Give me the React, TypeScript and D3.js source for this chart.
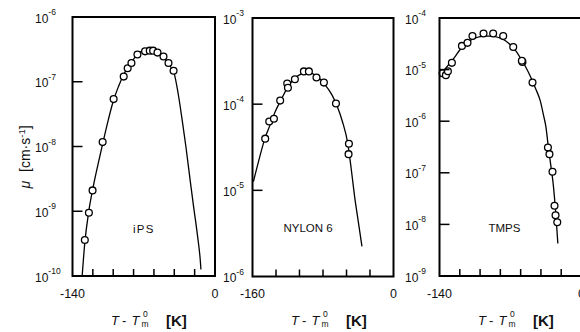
import React from 'react';
import * as d3 from 'd3';

// ---------- data (T - Tm0 in K, growth rate mu in cm/s) ----------
const ipsPointT = [-127.9, -123.9, -120.3, -110.4, -99.6, -89.7, -85.8, -82.1, -76.2, -68.7, -64.1, -60.8, -56.5, -50.6, -45.7, -40.7];
const ipsPointMu = [3.6e-10, 9.5e-10, 2.1e-9, 1.17e-8, 5.4e-8, 1.2e-7, 1.62e-7, 1.95e-7, 2.63e-7, 2.95e-7, 3.02e-7, 3.02e-7, 2.82e-7, 2.45e-7, 1.95e-7, 1.48e-7];
const ipsCurveT = [-130.5, -128, -124, -120, -115, -110, -105, -100, -95, -90, -85, -80, -75, -70, -65, -60, -55, -50, -45, -40, -36, -32, -28.6, -24.4, -21, -17.1, -14.5, -13.8];
const ipsCurveMu = [1.0e-10, 3.16e-10, 1.0e-9, 2.24e-9, 5.25e-9, 1.17e-8, 2.51e-8, 5.0e-8, 8.3e-8, 1.26e-7, 1.74e-7, 2.24e-7, 2.75e-7, 3.09e-7, 3.24e-7, 3.16e-7, 2.82e-7, 2.34e-7, 1.82e-7, 1.32e-7, 6.3e-8, 2.4e-8, 1.0e-8, 3.0e-9, 1.17e-9, 4.1e-10, 1.78e-10, 1.26e-10];

const nylonPointT = [-145.6, -141, -135.7, -128.6, -120.6, -119.8, -111.9, -101.7, -96, -87.4, -79, -65.3, -50.6, -51];
const nylonPointMu = [3.98e-5, 6.3e-5, 6.76e-5, 1.1e-4, 1.74e-4, 1.55e-4, 1.95e-4, 2.4e-4, 2.4e-4, 2.04e-4, 1.78e-4, 1.02e-4, 3.47e-5, 2.63e-5];
const nylonCurveT = [-159, -152, -146, -140, -134, -128, -120, -112, -104, -98, -92, -85, -78, -70, -64, -58, -52, -48, -44, -40, -35.8];
const nylonCurveMu = [1.26e-5, 2.4e-5, 3.98e-5, 5.75e-5, 8.3e-5, 1.1e-4, 1.58e-4, 2.0e-4, 2.26e-4, 2.34e-4, 2.26e-4, 2.04e-4, 1.7e-4, 1.29e-4, 9.5e-5, 6.3e-5, 3.55e-5, 1.78e-5, 8.3e-6, 4.37e-6, 2.24e-6];

const tmpsPointT = [-137, -133.7, -131.7, -127.8, -117.9, -112.4, -107.5, -96.6, -87.1, -77.2, -67.3, -58.2, -58.8, -48.3, -33.1, -31.6, -28.6, -26.6, -25.6, -23.9];
const tmpsPointMu = [8.5e-6, 7.8e-6, 9.3e-6, 1.35e-5, 2.88e-5, 3.3e-5, 4.47e-5, 5.0e-5, 5.0e-5, 4.47e-5, 2.75e-5, 1.41e-5, 1.48e-5, 5.6e-6, 3.1e-7, 2.3e-7, 1.05e-7, 2.3e-8, 1.5e-8, 1.1e-8];
const tmpsCurveT = [-139.5, -135, -130, -125, -120, -115, -110, -105, -100, -95, -90, -85, -80, -75, -70, -65, -60, -55, -50, -45, -40.7, -37.5, -35, -33, -30.5, -28, -25.5, -23.3];
const tmpsCurveMu = [7.6e-6, 1.0e-5, 1.32e-5, 1.74e-5, 2.4e-5, 3.0e-5, 3.63e-5, 4.07e-5, 4.37e-5, 4.47e-5, 4.47e-5, 4.37e-5, 4.07e-5, 3.63e-5, 3.0e-5, 2.34e-5, 1.66e-5, 1.12e-5, 7.1e-6, 4.17e-6, 2.5e-6, 1.32e-6, 7.6e-7, 3.55e-7, 1.51e-7, 6.3e-8, 1.78e-8, 4.27e-9];

const ipsXTicks = [-120, -100, -80, -60, -40, -20];
const nylonXTicks = [-133.3, -106.7, -80, -53.3, -26.7];
const tmpsXTicks = [-120, -100, -80, -60, -40, -20];
const ipsYExps = [-10, -9, -8, -7, -6];
const nylonYExps = [-6, -5, -4, -3];
const tmpsYExps = [-9, -8, -7, -6, -5, -4];
const ipsXEnds = [-140, 0];
const nylonXEnds = [-160, 0];
const tmpsXEnds = [-140, 0];

const panelNames = ['iPS', 'NYLON 6', 'TMPS'];

// ---------- layout ----------
const panels = [
  { name: panelNames[0], xEnds: ipsXEnds, xTicks: ipsXTicks, yExps: ipsYExps, pT: ipsPointT, pMu: ipsPointMu, cT: ipsCurveT, cMu: ipsCurveMu,
    left: 72.5, right: 215, top: 17, bottom: 276, yLabelX: 35, labelT: -70, labelY: 233, spacing: 1.2 },
  { name: panelNames[1], xEnds: nylonXEnds, xTicks: nylonXTicks, yExps: nylonYExps, pT: nylonPointT, pMu: nylonPointMu, cT: nylonCurveT, cMu: nylonCurveMu,
    left: 252.5, right: 393.5, top: 18, bottom: 276.5, yLabelX: 223, labelT: -97, labelY: 232, spacing: 0 },
  { name: panelNames[2], xEnds: tmpsXEnds, xTicks: tmpsXTicks, yExps: tmpsYExps, pT: tmpsPointT, pMu: tmpsPointMu, cT: tmpsCurveT, cMu: tmpsCurveMu,
    left: 439.5, right: 581.5, top: 18, bottom: 276, yLabelX: 405, labelT: -76, labelY: 232, spacing: 0 },
];

const FONT = '"Liberation Sans", Arial, Helvetica, sans-serif';

function Panel({ p }: { p: any }) {
  const x = d3.scaleLinear().domain(p.xEnds).range([p.left, p.right]);
  const yMin = Math.pow(10, p.yExps[0]);
  const yMax = Math.pow(10, p.yExps[p.yExps.length - 1]);
  const y = d3.scaleLog().domain([yMin, yMax]).range([p.bottom, p.top]);
  const curveData: [number, number][] = p.cT.map((t: number, i: number) => [t, p.cMu[i]]);
  const line = d3.line<[number, number]>().x(d => x(d[0])).y(d => y(d[1])).curve(d3.curveMonotoneX);
  const innerExps = p.yExps.slice(1, -1);
  const x0 = p.left + 38.5;
  const tb = 325;
  return (
    <g>
      <path d={line(curveData) || ''} fill="none" stroke="#000" strokeWidth={1.3} />
      {p.pT.map((t: number, i: number) => (
        <circle key={i} cx={x(t)} cy={y(p.pMu[i])} r={3.4} fill="#fff" stroke="#000" strokeWidth={1.3} />
      ))}
      <rect x={p.left} y={p.top} width={p.right - p.left} height={p.bottom - p.top} fill="none" stroke="#000" strokeWidth={2} />
      {p.xTicks.map((t: number, i: number) => (
        <line key={i} x1={x(t)} x2={x(t)} y1={p.bottom} y2={p.bottom - 7} stroke="#000" strokeWidth={1.5} />
      ))}
      {innerExps.map((e: number) => (
        <line key={e} x1={p.left} x2={p.left + 10} y1={y(Math.pow(10, e))} y2={y(Math.pow(10, e))} stroke="#000" strokeWidth={1.5} />
      ))}
      {p.yExps.map((e: number) => (
        <text key={e} x={p.yLabelX} y={y(Math.pow(10, e)) + 5.5} fontFamily={FONT} fontSize={12} fill="#111">
          10<tspan fontSize={8.5} dy={-7.5}>{String(e)}</tspan>
        </text>
      ))}
      {p.xEnds.map((t: number, i: number) => (
        <text key={i} x={x(t)} y={298} textAnchor="middle" fontFamily={FONT} fontSize={12.5} fill="#111">{String(t)}</text>
      ))}
      <text x={x(p.labelT)} y={p.labelY} textAnchor="middle" fontFamily={FONT} fontSize={11.5} letterSpacing={p.spacing} fill="#111">{p.name}</text>
      <g fontFamily={FONT} fill="#111">
        <text x={x0} y={tb} fontSize={13} fontStyle="italic">T</text>
        <text x={x0 + 11} y={tb} fontSize={13}>-</text>
        <text x={x0 + 20.5} y={tb} fontSize={13} fontStyle="italic">T</text>
        <text x={x0 + 30.5} y={tb + 2} fontSize={8.5}>m</text>
        <text x={x0 + 32} y={tb - 8.5} fontSize={8.5}>0</text>
        <text x={x0 + 55} y={tb + 1} fontSize={15} fontWeight="bold">[K]</text>
      </g>
    </g>
  );
}

export default function App() {
  return (
    <svg width={580} height={332} style={{ position: 'absolute', left: 0, top: 0, background: '#fff' }}>
      <rect x={0} y={0} width={580} height={332} fill="#fff" />
      {panels.map(p => <Panel key={p.name} p={p} />)}
      <text transform="translate(30,157) rotate(-90)" textAnchor="middle" fontFamily={FONT} fontSize={14} fill="#111">
        <tspan fontStyle="italic">μ</tspan>
        <tspan dx={9}>[cm·s</tspan>
        <tspan fontSize={9.5} dy={-5.5}>-1</tspan>
        <tspan dy={5.5}>]</tspan>
      </text>
    </svg>
  );
}
